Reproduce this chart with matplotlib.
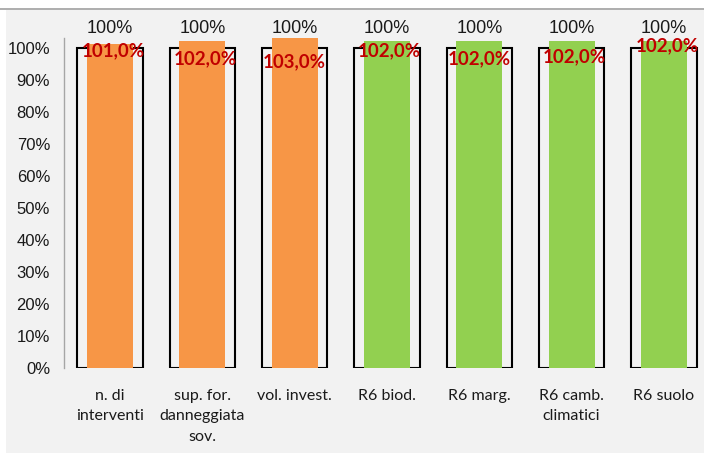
import matplotlib
matplotlib.use("Agg")
import matplotlib.pyplot as plt
from matplotlib.patches import Rectangle
from matplotlib.lines import Line2D
from matplotlib.ticker import PercentFormatter

# data
categories = ["n. di\ninterventi", "sup. for.\ndanneggiata\nsov.", "vol. invest.",
              "R6 biod.", "R6 marg.", "R6 camb.\nclimatici", "R6 suolo"]
target = [1.0, 1.0, 1.0, 1.0, 1.0, 1.0, 1.0]
actual = [1.01, 1.02, 1.03, 1.02, 1.02, 1.02, 1.02]
actual_labels = ["101,0%", "102,0%", "103,0%", "102,0%", "102,0%", "102,0%", "102,0%"]

# styling / label placement (Excel labels were dragged by hand)
bar_colors = ["#F79646"] * 3 + ["#92D050"] * 4
label_dx = [0.03, 0.03, -0.01, 0.03, 0.0, 0.03, 0.04]
label_y = [0.99, 0.966, 0.956, 0.99, 0.966, 0.972, 1.006]

plt.rcParams['font.family'] = ['Liberation Sans', 'DejaVu Sans']

fig = plt.figure(figsize=(7.04, 4.53), dpi=100)
fig.patch.set_facecolor("white")
# grey panel and top border line
fig.add_artist(Rectangle((6 / 704, 0), 1, (453 - 10) / 453, transform=fig.transFigure,
                         facecolor="#F2F2F2", edgecolor="none", zorder=0))
fig.add_artist(Line2D([0, 1], [(453 - 9) / 453] * 2, transform=fig.transFigure,
                      color="#A0A0A0", lw=1.2, zorder=1))

ax = fig.add_axes([64 / 704, 85 / 453, 646 / 704, 330 / 453])
ax.set_facecolor("none")

x = list(range(len(categories)))
outline = ax.bar(x, target, width=0.71, facecolor="none", edgecolor="black",
                 linewidth=1.5, zorder=2)
ax.bar(x, actual, width=0.5, color=bar_colors, zorder=3, clip_on=False)

for i in x:
    ax.annotate("100%", (i, target[i]), xytext=(0, 14), textcoords="offset points",
                ha="center", va="center", fontsize=13, color="#1a1a1a", annotation_clip=False)
    ax.text(i + label_dx[i], label_y[i], actual_labels[i], ha="center", va="center",
            fontsize=13.5, fontweight="bold", color="#C00000", family=["Lato", "DejaVu Sans"],
            zorder=5, clip_on=False)

ax.set_xlim(-0.5, 6.5)
ax.set_ylim(0, 1.03)
ax.set_yticks([i / 10 for i in range(11)])
ax.yaxis.set_major_formatter(PercentFormatter(1.0, decimals=0))
ax.set_xticks(x)
ax.set_xticklabels(categories, family=["Lato", "DejaVu Sans"], fontsize=11.5, linespacing=1.6)
ax.tick_params(axis="both", length=0)
ax.tick_params(axis="y", labelsize=12, pad=10, labelcolor="#1a1a1a")
ax.tick_params(axis="x", pad=15, labelcolor="#1a1a1a")
for s in ["top", "right", "bottom"]:
    ax.spines[s].set_visible(False)
ax.spines["left"].set_color("#A6A6A6")
ax.spines["left"].set_linewidth(1.0)

fig.savefig("out.png", dpi=100)
